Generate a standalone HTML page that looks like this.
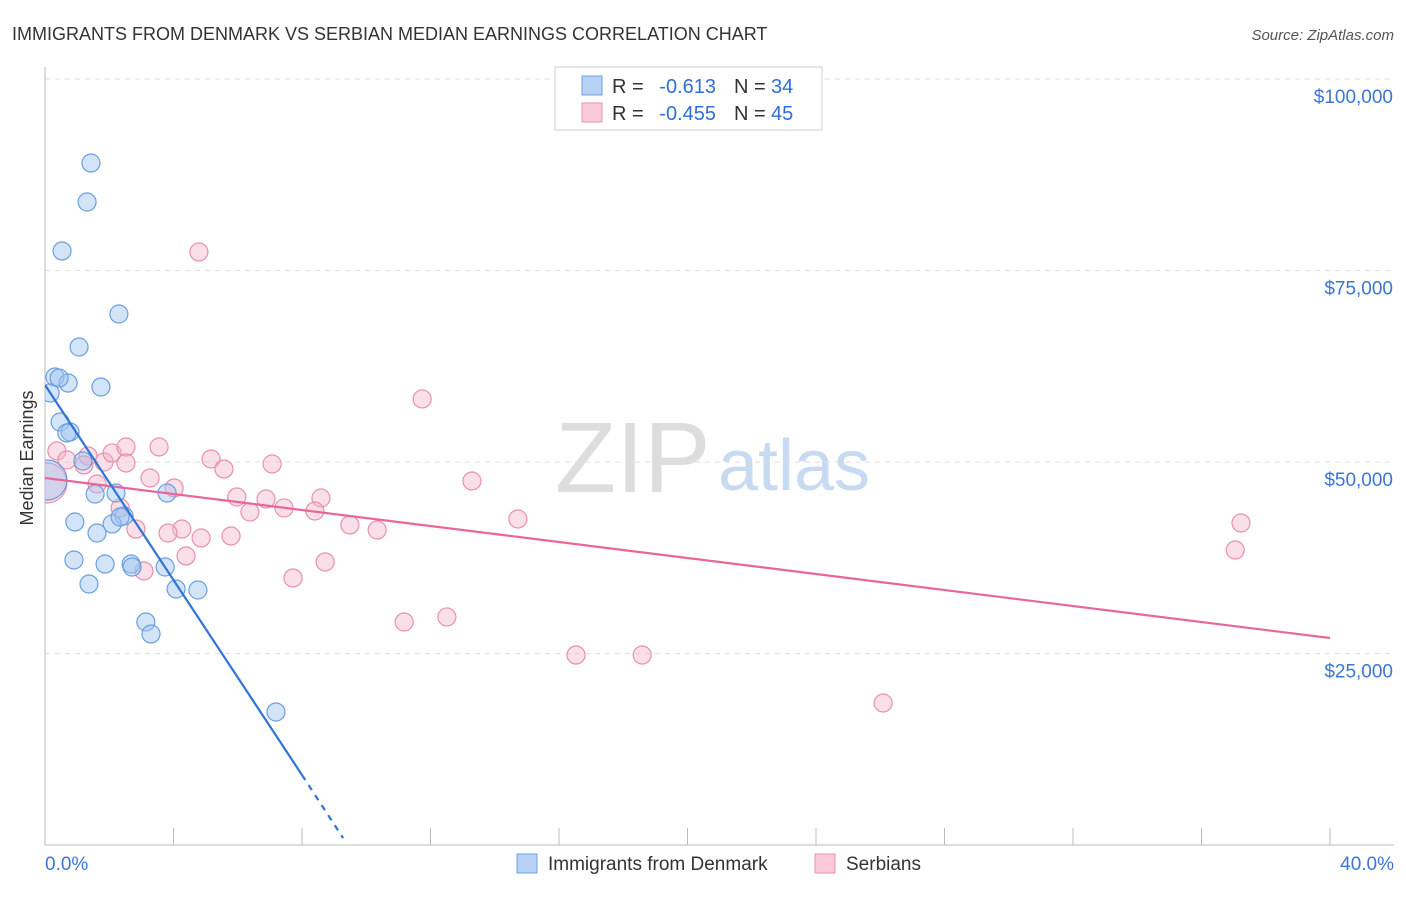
<!DOCTYPE html>
<html><head><meta charset="utf-8"><style>
body{margin:0;background:#fff;font-family:"Liberation Sans",sans-serif}
svg text{font-family:"Liberation Sans",sans-serif}
</style></head><body>
<svg width="1406" height="892" viewBox="0 0 1406 892">
<defs><clipPath id="plot"><rect x="45" y="60" width="1360" height="785"/></clipPath></defs>
<text x="12" y="40" font-size="18" fill="#333">IMMIGRANTS FROM DENMARK VS SERBIAN MEDIAN EARNINGS CORRELATION CHART</text>
<text x="1394" y="40" font-size="15" fill="#555" font-style="italic" text-anchor="end">Source: ZipAtlas.com</text>
<text x="33" y="458" font-size="18" fill="#333" text-anchor="middle" transform="rotate(-90 33 458)">Median Earnings</text>
<text x="555" y="492" font-size="100" fill="#ddd" font-family="Liberation Serif">ZIP</text>
<text x="718" y="490" font-size="72" fill="#c8daf2">atlas</text>
<g id="grid"></g><g id="axes"></g><g id="marks" clip-path="url(#plot)"></g>
<g>
<rect x="555" y="67" width="267" height="63" fill="#fff" stroke="#ccc"/>
<rect x="582" y="76" width="20" height="19" fill="#b8d2f5" stroke="#6a9fe0"/>
<rect x="582" y="103" width="20" height="19" fill="#fbcad9" stroke="#e890ab"/>
<text x="612" y="93" font-size="20" fill="#333">R =</text>
<text x="716" y="93" font-size="20" fill="#2f6fd6" text-anchor="end">-0.613</text>
<text x="734" y="93" font-size="20" fill="#333">N =</text>
<text x="771" y="93" font-size="20" fill="#2f6fd6">34</text>
<text x="612" y="120" font-size="20" fill="#333">R =</text>
<text x="716" y="120" font-size="20" fill="#2f6fd6" text-anchor="end">-0.455</text>
<text x="734" y="120" font-size="20" fill="#333">N =</text>
<text x="771" y="120" font-size="20" fill="#2f6fd6">45</text>
</g>
<g>
<rect x="517" y="854" width="20" height="19" fill="#b8d2f5" stroke="#6a9fe0"/>
<text x="548" y="870" font-size="19" fill="#333">Immigrants from Denmark</text>
<rect x="815" y="854" width="20" height="19" fill="#fbcad9" stroke="#e890ab"/>
<text x="846" y="870" font-size="19" fill="#333">Serbians</text>
</g>
</svg>
<script>
const yTicks=[25000,50000,75000,100000];
const yTickLabels=["$25,000","$50,000","$75,000","$100,000"];
const xTicks=[0,4,8,12,16,20,24,28,32,36,40];
const blueX=[1.43,1.31,0.53,2.30,1.06,0.31,0.72,1.74,0.16,0.47,0.78,0.68,1.18,1.56,2.21,3.80,2.46,0.93,2.09,1.62,0.90,1.87,2.68,2.71,3.74,1.37,4.08,4.76,3.14,3.30,7.19,0.44,2.34,0.06];
const blueY=[89030,83940,77550,69320,65010,61100,60310,59790,59010,55220,53920,53790,50130,45820,45950,45950,42950,42170,41910,40730,37210,36680,36680,36290,36290,34070,33420,33290,29110,27550,17360,60960,42820,47650];
const pinkX=[4.79,11.74,0.37,0.68,1.34,1.21,1.84,2.09,2.52,3.55,5.17,5.57,7.07,3.27,4.02,1.62,13.29,5.97,6.88,8.59,6.38,7.44,8.40,14.72,37.23,9.49,10.34,2.83,4.26,3.83,4.86,5.79,4.39,37.05,8.72,3.08,7.72,11.18,12.51,16.53,18.59,26.09,2.34,2.52,0.06];
const pinkY=[77420,58230,51440,50260,50790,49610,50000,51180,51960,51960,50390,49090,49740,47910,46610,47130,47520,45430,45170,45300,43470,44000,43600,42560,42040,41780,41120,41250,41250,40730,40080,40340,37730,38510,36950,35770,34860,29110,29770,24800,24800,18540,44000,49870,47260];
const blueBig=[33], pinkBig=[44];
const blueLine=[[0,60050],[8,9140]], blueDash=[[8,9140],[9.28,900]];
const pinkLine=[[0,47910],[40,27020]];
const X=v=>45+v/40*1285, Y=v=>845-v/25000*191.5;
const NS="http://www.w3.org/2000/svg";
function mk(t,a,p){const e=document.createElementNS(NS,t);for(const k in a)e.setAttribute(k,a[k]);p.appendChild(e);return e;}
const grid=document.getElementById('grid'),axes=document.getElementById('axes'),marks=document.getElementById('marks');
yTicks.forEach((t,i)=>{
 const l=mk('line',{x1:45,x2:1394,y1:Y(t),y2:Y(t),stroke:'#ddd','stroke-dasharray':'5,5'},grid);
 
 
 const tx=mk('text',{x:1393,y:Y(t)+24,'font-size':19,fill:'#3b76d4','text-anchor':'end'},axes);tx.textContent=yTickLabels[i];
 
 
});
mk('line',{x1:45,x2:45,y1:67,y2:845,stroke:'#bbb'},axes);
mk('line',{x1:45,x2:1394,y1:845,y2:845,stroke:'#bbb'},axes);
xTicks.forEach(t=>{const l=mk('line',{x1:X(t),x2:X(t),y1:828,y2:845,stroke:'#bbb'},axes);
 
 });
let t0=mk('text',{x:45,y:870,'font-size':19,fill:'#3b76d4'},axes);t0.textContent='0.0%';


let t1=mk('text',{x:1394,y:870,'font-size':19,fill:'#3b76d4','text-anchor':'end'},axes);t1.textContent='40.0%';


function pts(xs,ys,big,fill,stroke,name){xs.forEach((x,i)=>{const c=mk('circle',{cx:X(x),cy:Y(ys[i]),r:big.includes(i)?20:9,fill:fill,stroke:stroke,'stroke-width':1.2},marks);
 
 });}
pts(pinkX,pinkY,pinkBig,'rgba(246,175,198,0.4)','#e890ab','serbian-point');
pts(blueX,blueY,blueBig,'rgba(160,196,240,0.45)','#6a9fe0','denmark-point');
function ln(p,col,dash,name){const l=mk('line',{x1:X(p[0][0]),y1:Y(p[0][1]),x2:X(p[1][0]),y2:Y(p[1][1]),stroke:col,'stroke-width':2.2},marks);if(dash)l.setAttribute('stroke-dasharray','6,6');
 
 }
ln(pinkLine,'#e8669a',false,'serbian-trendline');
ln(blueLine,'#2f74d6',false,'denmark-trendline');
ln(blueDash,'#2f74d6',true,'denmark-trendline-extension');
</script>
</body></html>
